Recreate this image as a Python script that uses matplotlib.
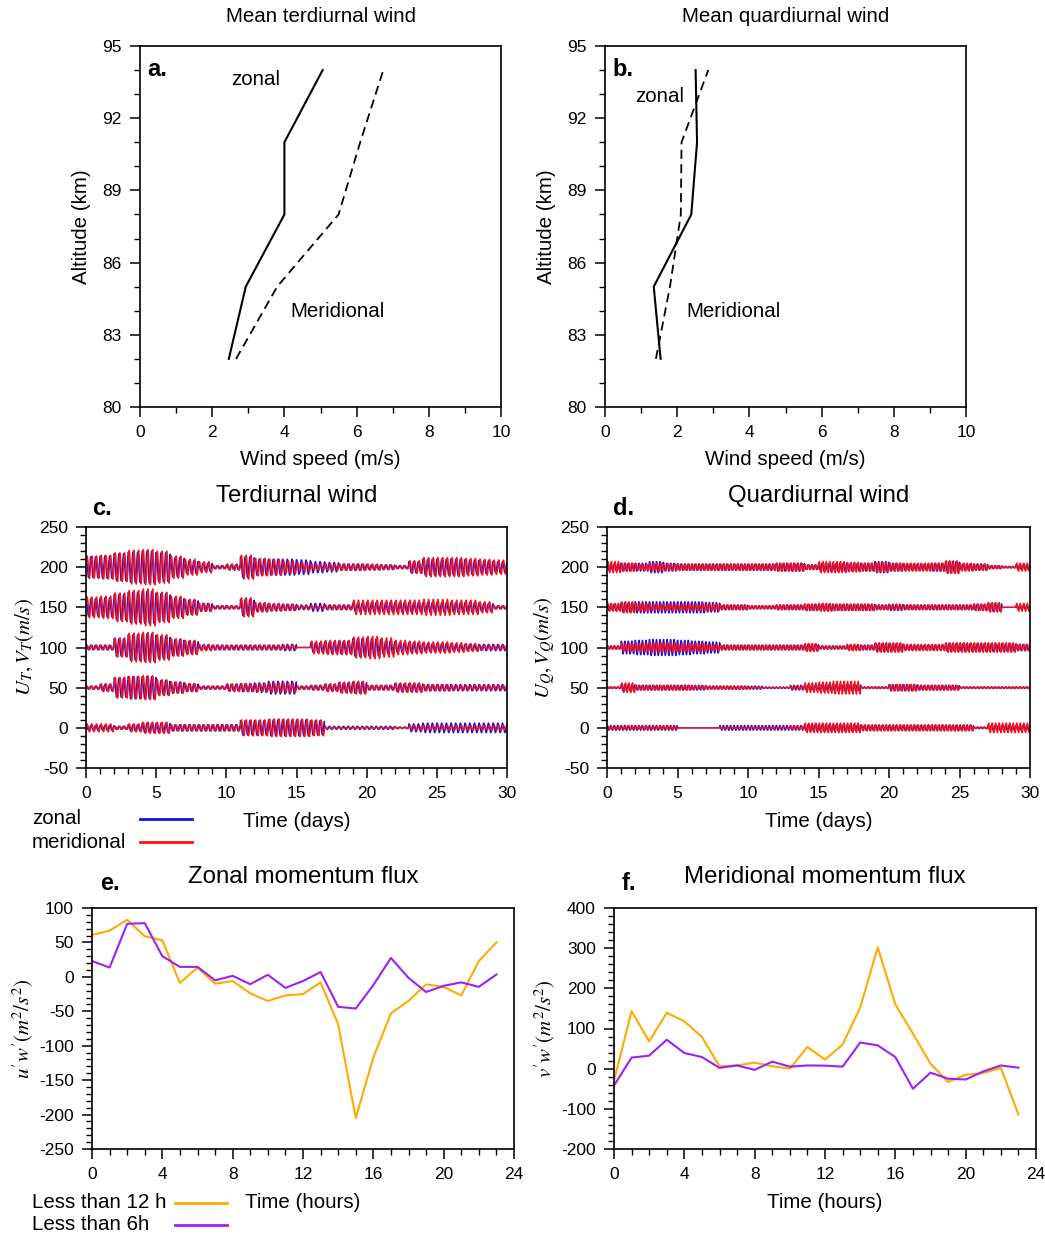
import numpy as np
import matplotlib
matplotlib.use("Agg")
import matplotlib.pyplot as plt
from matplotlib.lines import Line2D
from matplotlib.ticker import MultipleLocator, FixedLocator

plt.rcParams['font.family'] = ['Liberation Sans', 'DejaVu Sans']
plt.rcParams['mathtext.fontset'] = 'stix'
plt.rcParams['axes.unicode_minus'] = False

# ---- mean tidal wind profiles (km, m/s)
alt = [82, 85, 88, 91, 94]
terd_zonal = [2.46, 2.93, 4.0, 4.0, 5.06]
terd_merid = [2.66, 3.8, 5.5, 6.1, 6.74]
quad_zonal = [1.54, 1.35, 2.39, 2.55, 2.51]
quad_merid = [1.41, 1.8, 2.1, 2.12, 2.86]

# ---- daily wave amplitudes (m/s) at each offset level, days 0..29
levels = [0, 50, 100, 150, 200]
terd_amp_u = {
    200: [13,14,17,19,20,18,12,8,5,2,3,13,10,10,10,9,7,6,4,4,3,3,2,7,10,10,10,9,8,7],
    150: [11,12,16,19,20,17,12,9,5,2,2,10,5,4,4,3,5,3,3,5,6,6,6,6,6,6,6,6,5,2],
    100: [3,3,11,16,17,14,10,8,3,3,3,3,3,3,4,0,6,7,8,11,11,8,6,6,5,5,4,4,4,4],
    50:  [2,4,12,14,14,9,7,5,2,2,4,5,6,8,8,2,3,4,6,7,3,3,5,5,4,4,4,4,4,4],
    0:   [3,3,2,4,6,6,4,4,4,4,4,9,9,10,10,10,9,2,2,2,2,2,1,5,6,6,6,6,6,6],
}
terd_amp_v = {
    200: [14,15,18,21,22,20,14,10,7,2,4,15,11,10,8,6,4,4,4,4,4,3,2,8,12,12,12,11,10,9],
    150: [13,14,18,21,23,19,14,10,5,2,2,12,6,5,4,2,2,3,3,9,9,9,9,9,10,10,9,9,7,2],
    100: [3,3,12,18,19,16,11,9,4,3,3,3,3,3,3,0,8,9,9,13,14,12,9,8,7,7,6,5,3,3],
    50:  [2,5,13,14,15,10,7,5,2,2,5,5,5,6,6,2,3,5,7,8,3,3,6,6,4,4,3,3,3,3],
    0:   [5,5,2,5,7,7,4,4,4,4,4,10,10,11,11,11,10,1,1,1,1,1,1,3,3,3,3,3,3,3],
}
quad_amp_u = {
    200: [4,5,5,7,5,4,4,4,4,4,4,4,5,5,3,5,5,5,5,7,5,4,4,5,7,4,4,2,1,3],
    150: [4,6,7,7,7,7,7,6,3,3,2,2,3,3,4,4,4,4,4,3,4,3,3,3,3,3,4,5,0,2],
    100: [2,8,9,10,10,9,8,7,3,3,3,3,3,3,4,2,2,3,3,5,5,3,3,3,5,5,5,5,5,4],
    50:  [1,4,3,3,3,3,3,2,2,2,2,1,1,3,3,4,4,4,1,1,4,4,3,3,3,1,1,1,1,1],
    0:   [3,3,3,3,3,0,0,0,3,3,3,3,3,3,4,4,4,4,3,3,3,3,3,3,3,3,1,3,3,3],
}
quad_amp_v = {
    200: [7,5,4,5,4,4,4,4,4,4,4,4,5,5,3,7,7,6,5,6,5,5,5,5,8,5,4,2,1,5],
    150: [5,7,5,4,4,4,4,4,3,3,2,2,3,3,4,5,4,4,4,3,3,3,3,3,3,3,4,6,0,5],
    100: [2,5,5,6,6,5,5,4,3,3,3,3,3,3,5,2,2,4,3,6,6,4,4,4,6,6,6,6,6,4],
    50:  [1,6,3,3,3,3,2,2,2,2,1,0,0,2,6,7,8,8,1,1,4,4,3,3,3,1,1,1,1,1],
    0:   [2,2,2,2,2,0,0,0,1,1,1,1,1,2,6,6,6,6,4,4,4,4,4,4,4,4,1,6,6,6],
}

# ---- momentum fluxes by hour
hours = list(range(24))
uw_12h = [61, 67, 83, 59, 53, -9, 13.5, -10, -6, -24, -35, -27, -25, -8,
          -69, -205, -117, -53, -35, -11, -14.5, -27, 23, 50]
uw_6h = [23, 13.5, 77, 78, 30, 14.5, 14.5, -5, 1.5, -10.6, 3, -16, -6, 7,
         -43.5, -46, -12, 27.5, -1.5, -22, -13, -8, -14.5, 3.4]
vw_12h = [-30, 143, 68, 139, 118, 79, 6, 8, 15, 6, 0, 54, 22.5, 60,
          152, 302, 160, 87.5, 12.5, -33, -15, -11, 2, -114]
vw_6h = [-42, 27.5, 32.5, 72, 39, 29, 2, 8, -3, 17.5, 5, 8, 7.5, 5,
         65, 58, 29, -50, -10, -25, -27, -7, 8, 2.5]

BLUE = '#1010f0'
RED = '#ff1010'
ORANGE = '#ffaa00'
PURPLE = '#a020f0'

FS_LAB = 14.8
FS_TITLE = 17.3
FS_TICK = 12.5

W, H = 1045, 1240
fig = plt.figure(figsize=(W / 100, H / 100), dpi=100)


def add_ax(l, t, r, b):
    return fig.add_axes([l / W, 1 - b / H, (r - l) / W, (b - t) / H])


def ftext(x, y, s, **kw):
    kw.setdefault('ha', 'center')
    kw.setdefault('va', 'center')
    fig.text(x / W, 1 - y / H, s, **kw)


def style(ax, xmaj, xmin, ymaj, ymin):
    ax.xaxis.set_major_locator(MultipleLocator(xmaj))
    ax.xaxis.set_minor_locator(MultipleLocator(xmin))
    ax.yaxis.set_major_locator(ymaj)
    ax.yaxis.set_minor_locator(MultipleLocator(ymin))
    ax.tick_params(which='major', direction='out', length=7, width=1.1,
                   labelsize=FS_TICK, pad=6)
    ax.tick_params(which='minor', direction='out', length=4, width=1.0)
    for sp in ax.spines.values():
        sp.set_linewidth(1.2)


# ---- a, b: mean profiles
for (l, r), zon, mer, tag, ttl, zpos, mpos in [
        ((140, 501), terd_zonal, terd_merid, 'a.', 'Mean terdiurnal wind',
         (3.19, 93.6), (5.48, 83.95)),
        ((605, 966), quad_zonal, quad_merid, 'b.', 'Mean quardiurnal wind',
         (1.5, 92.9), (3.55, 83.95))]:
    ax = add_ax(l, 46, r, 407)
    ax.plot(zon, alt, color='black', lw=1.5)
    ax.plot(mer, alt, color='black', lw=1.3, ls=(0, (5, 3)))
    ax.set_xlim(0, 10)
    ax.set_ylim(80, 95)
    style(ax, 2, 1, FixedLocator(range(80, 96, 3)), 1)
    ax.text(0.02, 0.935, tag, transform=ax.transAxes, fontsize=17,
            fontweight='bold', va='center')
    ax.text(*zpos, 'zonal', fontsize=FS_LAB, ha='center', va='center')
    ax.text(*mpos, 'Meridional', fontsize=FS_LAB, ha='center', va='center')
    ax.set_xlabel('Wind speed (m/s)', fontsize=FS_LAB, labelpad=7)
    ax.set_ylabel('Altitude (km)', fontsize=FS_LAB, labelpad=8)
    ftext((l + r) / 2, 17, ttl, fontsize=FS_LAB)

# ---- c, d: tidal wind time series
for (l, r), amp_u, amp_v, per_day, tag, ttl, ylab in [
        ((86, 507), terd_amp_u, terd_amp_v, 3, 'c.', 'Terdiurnal wind',
         r'$U_T, V_T(m/s)$'),
        ((607, 1030), quad_amp_u, quad_amp_v, 4, 'd.', 'Quardiurnal wind',
         r'$U_Q, V_Q(m/s)$')]:
    ax = add_ax(l, 527, r, 768)
    spd = 96
    t = np.arange(30 * spd) / spd
    phase = 2 * np.pi * per_day * t
    for lev in levels:
        env_u = np.repeat(amp_u[lev], spd)
        env_v = np.repeat(amp_v[lev], spd)
        ax.plot(t, lev + env_u * np.sin(phase + 1.3), color=BLUE, lw=1.0)
        ax.plot(t, lev + env_v * np.sin(phase), color=RED, lw=1.0)
    ax.set_xlim(0, 30)
    ax.set_ylim(-50, 250)
    style(ax, 5, 1, MultipleLocator(50), 10)
    ax.set_xlabel('Time (days)', fontsize=FS_LAB, labelpad=8)
    ax.set_ylabel(ylab, fontsize=15, labelpad=2)
    ftext((l + r) / 2, 496, ttl, fontsize=FS_TITLE)
    ftext(l + 6, 509, tag, fontsize=17, fontweight='bold', ha='left')

# legend for c/d
ftext(32, 819, 'zonal', fontsize=FS_LAB, ha='left')
ftext(32, 842, 'meridional', fontsize=FS_LAB, ha='left')
fig.add_artist(Line2D([140 / W, 192 / W], [1 - 819 / H, 1 - 819 / H],
                      color=BLUE, lw=2))
fig.add_artist(Line2D([140 / W, 192 / W], [1 - 842 / H, 1 - 842 / H],
                      color=RED, lw=2))

# ---- e, f: momentum fluxes
for (l, r), y12, y6, ylim, ymaj, ymin, tag, ttl, ylab in [
        ((92, 514), uw_12h, uw_6h, (-250, 100), 50, 10, 'e.',
         'Zonal momentum flux', r"$u^{\prime}w^{\prime}(m^2/s^2)$"),
        ((614, 1036), vw_12h, vw_6h, (-200, 400), 100, 20, 'f.',
         'Meridional momentum flux', r"$v^{\prime}w^{\prime}(m^2/s^2)$")]:
    ax = add_ax(l, 908, r, 1149)
    ax.plot(hours, y12, color=ORANGE, lw=1.5)
    ax.plot(hours, y6, color=PURPLE, lw=1.5)
    ax.set_xlim(0, 24)
    ax.set_ylim(*ylim)
    style(ax, 4, 1, MultipleLocator(ymaj), ymin)
    ax.set_xlabel('Time (hours)', fontsize=FS_LAB, labelpad=8)
    ax.set_ylabel(ylab, fontsize=15, labelpad=2)
    ftext((l + r) / 2, 877, ttl, fontsize=FS_TITLE)
    ftext(l + 8, 884, tag, fontsize=17, fontweight='bold', ha='left')

ftext(32, 1202, 'Less than 12 h', fontsize=FS_LAB, ha='left')
ftext(32, 1224, 'Less than 6h', fontsize=FS_LAB, ha='left')
fig.add_artist(Line2D([175 / W, 227 / W], [1 - 1203 / H, 1 - 1203 / H],
                      color=ORANGE, lw=2))
fig.add_artist(Line2D([175 / W, 227 / W], [1 - 1225 / H, 1 - 1225 / H],
                      color=PURPLE, lw=2))

fig.savefig('out.png', dpi=100)
